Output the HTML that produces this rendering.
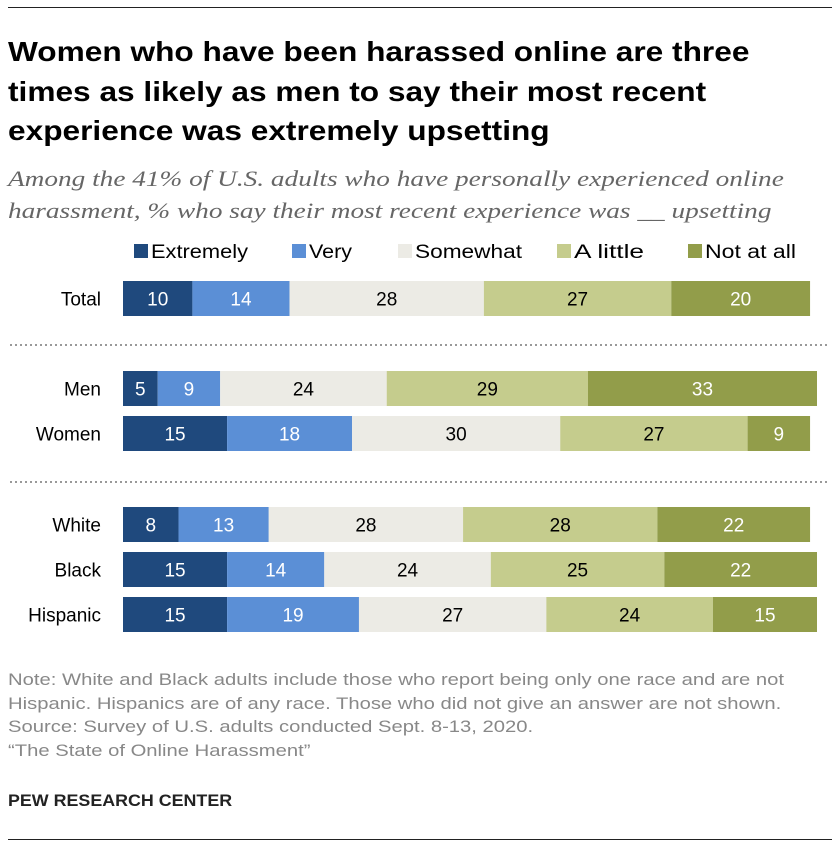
<!DOCTYPE html>
<html><head><meta charset="utf-8"><style>
body{margin:0;width:840px;height:850px;background:#fff;font-family:"Liberation Sans",sans-serif;position:relative;overflow:hidden}
.abs{position:absolute;white-space:nowrap;transform-origin:0 0}
</style></head><body>
<div class="abs" style="left:8px;top:7px;width:824px;height:1px;background:#222"></div>
<div class="abs" style="left:8px;top:32px;font-size:28px;font-weight:bold;line-height:39.5px;color:#000;transform:scaleX(1.13)">Women who have been harassed online are three<br>times as likely as men to say their most recent<br>experience was extremely upsetting</div>
<div class="abs" style="left:8px;top:163px;font-family:'Liberation Serif',serif;font-style:italic;font-size:22px;line-height:32px;color:#666;transform:scaleX(1.24)">Among the 41% of U.S. adults who have personally experienced online<br>harassment, % who say their most recent experience was __ upsetting</div>
<svg class="abs" style="left:0;top:0" width="840" height="850" id="chart"></svg>
<div class="abs" style="left:8px;top:668px;font-size:17px;line-height:23.5px;color:#888;transform:scaleX(1.19)">Note: White and Black adults include those who report being only one race and are not<br>Hispanic. Hispanics are of any race. Those who did not give an answer are not shown.<br>Source: Survey of U.S. adults conducted Sept. 8-13, 2020.<br>“The State of Online Harassment”</div>
<div class="abs" style="left:8px;top:791px;font-size:17px;font-weight:bold;color:#222;transform:scaleX(1.05)">PEW RESEARCH CENTER</div>
<div class="abs" style="left:8px;top:839px;width:824px;height:1px;background:#222"></div>
<script>
const categories=["Total","Men","Women","White","Black","Hispanic"];
const seriesNames=["Extremely","Very","Somewhat","A little","Not at all"];
const extremely=[10,5,15,8,15,15];
const very=[14,9,18,13,14,19];
const somewhat=[28,24,30,28,24,27];
const alittle=[27,29,27,28,25,24];
const notatall=[20,33,9,22,22,15];
const series=[extremely,very,somewhat,alittle,notatall];
const colors=["#1f497d","#5b8fd6","#ecebe5","#c5cc8d","#929d4a"];
const textColors=["#fff","#fff","#000","#000","#fff"];
const rowY=[281,371,416,507,552,597];
const x0=123, unit=6.94, bh=35;
const xs=v=>x0+v*unit;
const svg=document.getElementById('chart');
const NS="http://www.w3.org/2000/svg";
function mk(t,a){const e=document.createElementNS(NS,t);for(const k in a)e.setAttribute(k,a[k]);svg.appendChild(e);return e;}
const legX=[134,292,398,557,688];
const legW=[97,43,107,70,91];
seriesNames.forEach((n,i)=>{
 const r=mk('rect',{x:legX[i],y:244,width:14,height:14,fill:colors[i]});
 
 
 const t=mk('text',{x:legX[i]+17,y:258,'font-size':19,fill:'#000','font-family':'Liberation Sans, sans-serif',textLength:legW[i],lengthAdjust:'spacingAndGlyphs'});
 t.textContent=n;
 
 
});
categories.forEach((c,ri)=>{
 const y=rowY[ri];
 const lab=mk('text',{x:101,y:y+bh/2+7,'text-anchor':'end','font-size':19,fill:'#000','font-family':'Liberation Sans, sans-serif'});
 lab.textContent=c;
 
 
 let cum=0;
 series.forEach((s,si)=>{
  const v=s[ri];
  const r=mk('rect',{x:xs(cum),y:y,width:v*unit,height:bh,fill:colors[si]});
  
  
  const t=mk('text',{x:xs(cum+v/2),y:y+bh/2+7,'text-anchor':'middle','font-size':19,fill:textColors[si],'font-family':'Liberation Sans, sans-serif'});
  t.textContent=v;
  
  
  cum+=v;
 });
});
[345,482].forEach(y=>{
 const l=mk('line',{x1:10,x2:830,y1:y,y2:y,stroke:'#999','stroke-width':2,'stroke-dasharray':'2,3'});
 
 
});
</script>
</body></html>
